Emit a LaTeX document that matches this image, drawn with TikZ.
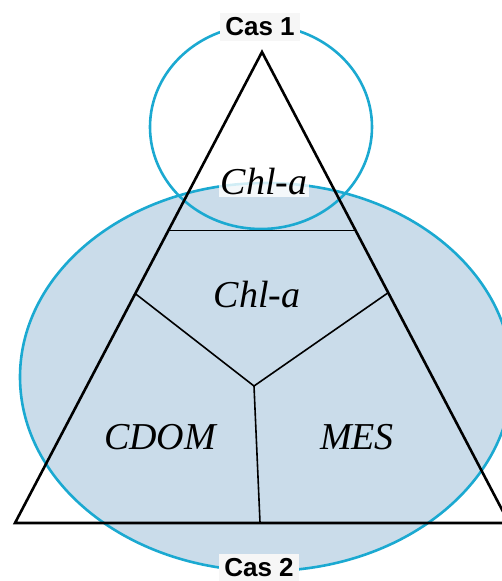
\documentclass[tikz,border=0pt]{standalone}
\usepackage{fontspec}
\setmainfont{Liberation Serif}
\setsansfont{Liberation Sans}
\usepackage{tikz}
\usetikzlibrary{calc}
\definecolor{casblue}{HTML}{1BA9D1}
\definecolor{casfill}{HTML}{CADCEA}

\begin{document}
\begin{tikzpicture}[x=1pt, y=-1pt,
    zone/.style={draw=casblue, line width=2.6pt},
    edge/.style={draw=black, line width=2.6pt, line join=miter},
    split/.style={draw=black, line width=1.6pt},
    comp/.style={font=\fontsize{38}{42}\selectfont\itshape, inner sep=2pt},
    cas/.style={font=\fontsize{26}{28}\selectfont\sffamily\bfseries,
                fill=gray!7, inner sep=5pt},
]
    \useasboundingbox (0,0) rectangle (502,581);

    \coordinate (A) at (262,52);
    \coordinate (B) at (15,523);
    \coordinate (C) at (509,523);

    \draw[zone, fill=casfill] (266,377) ellipse [x radius=246, y radius=194];
    \draw[zone] (261,127) ellipse [x radius=111, y radius=102];

    \draw[edge] (A) -- (B) -- (C) -- cycle;

    \coordinate (h1) at ($(A)!0.379!(B)$);
    \coordinate (h2) at ($(A)!0.379!(C)$);
    \coordinate (s1) at ($(A)!0.513!(B)$);
    \coordinate (s2) at ($(A)!0.511!(C)$);
    \coordinate (J) at (254,386);
    \coordinate (s3) at ($(B)!0.496!(C)$);

    \draw[split] (h1) -- (h2);
    \draw[split] (s1) -- (J) -- (s2);
    \draw[split] (J) -- (s3);

    \node[comp, fill=white, fill opacity=0.8, text opacity=1] (chl1) at (264,182) {Chl-a};
    \node[comp] (chl2) at (257,295) {Chl-a};
    \node[comp] (cdom) at (160,437) {CDOM};
    \node[comp] (mes) at (357,437) {MES};

    \node[cas] (cas1) at (260,27) {Cas 1};
    \node[cas] (cas2) at (259,568) {Cas 2};
\end{tikzpicture}
\end{document}
